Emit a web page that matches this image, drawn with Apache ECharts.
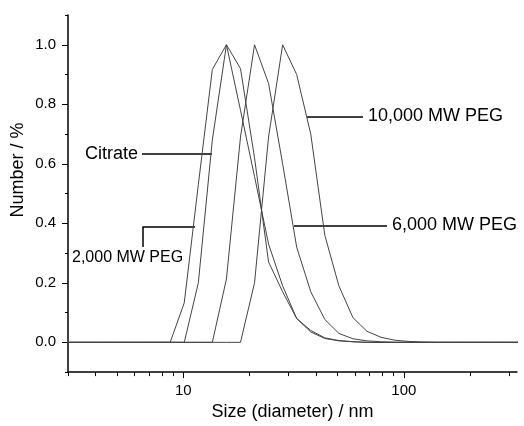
<!DOCTYPE html>
<html>
<head>
<meta charset="utf-8">
<title>Size distribution</title>
<script src="https://cdn.jsdelivr.net/npm/echarts@6/dist/echarts.min.js"></script>
<style type="text/css">
html, body { margin: 0; padding: 0; background: #fff; }
#chart { width: 524px; height: 426px; }
</style>
</head>
<body>
<div id="chart"></div>
<script type="text/javascript">
// size bins (nm)
var sizes = [2.696, 3.122, 3.615, 4.187, 4.849, 5.615, 6.503, 7.531, 8.721, 10.10,
	11.70, 13.54, 15.69, 18.17, 21.04, 24.36, 28.21, 32.67, 37.84, 43.82,
	50.75, 58.77, 68.06, 78.82, 91.28, 105.7, 122.4, 141.8, 164.2, 190.1,
	220.2, 255.0, 295.3, 342.0];

var peg2000 = [0, 0, 0, 0, 0, 0, 0, 0, 0, 0.133,
	0.53, 0.917, 1.0, 0.92, 0.62, 0.27, 0.17, 0.08, 0.035, 0.013,
	0.005, 0.002, 0, 0, 0, 0, 0, 0, 0, 0,
	0, 0, 0, 0];
var citrate = [0, 0, 0, 0, 0, 0, 0, 0, 0, 0,
	0.2, 0.68, 1.0, 0.78, 0.557, 0.33, 0.19, 0.08, 0.04, 0.015,
	0.006, 0.002, 0, 0, 0, 0, 0, 0, 0, 0,
	0, 0, 0, 0];
var peg6000 = [0, 0, 0, 0, 0, 0, 0, 0, 0, 0,
	0, 0, 0.213, 0.69, 1.0, 0.87, 0.6, 0.32, 0.17, 0.077,
	0.03, 0.012, 0.005, 0.002, 0, 0, 0, 0, 0, 0,
	0, 0, 0, 0];
var peg10000 = [0, 0, 0, 0, 0, 0, 0, 0, 0, 0,
	0, 0, 0, 0, 0.2, 0.69, 1.0, 0.9, 0.7, 0.36,
	0.19, 0.083, 0.037, 0.017, 0.007, 0.003, 0.001, 0, 0, 0,
	0, 0, 0, 0];

var xMajorTicks = [10, 100];
var xMinorTicks = [3, 4, 5, 6, 7, 8, 9, 20, 30, 40, 50, 60, 70, 80, 90, 200, 300];
var yMajorTicks = [0, 0.2, 0.4, 0.6, 0.8, 1.0];
var yMinorTicks = [-0.1, 0.1, 0.3, 0.5, 0.7, 0.9, 1.1];

var X_MIN = 3, X_MAX = 326;
var FONT = 'Liberation Sans, Arial, sans-serif';

function pairs(ys) {
	return sizes.map(function (s, i) { return [s, ys[i]]; });
}
function log10(v) { return Math.log(v) / Math.LN10; }

function curve(name, ys) {
	return {
		name: name,
		type: 'line',
		xAxisIndex: 0,
		yAxisIndex: 0,
		data: pairs(ys),
		showSymbol: false,
		lineStyle: { color: '#444', width: 1 },
		silent: true
	};
}

function label(text, x, y, size) {
	return {
		type: 'text', left: x, top: y - size / 2 - 1,
		style: { text: text, fill: '#000', font: size + 'px ' + FONT }
	};
}
function seg(points) {
	return {
		type: 'polyline',
		shape: { points: points },
		style: { stroke: '#000', lineWidth: 1.5, fill: null }
	};
}

var option = {
	animation: false,
	grid: { left: 68, right: 7, top: 15, bottom: 49 },
	xAxis: [
		{ type: 'log', min: X_MIN, max: X_MAX, show: false },
		{
			type: 'value', position: 'bottom', min: log10(X_MIN), max: log10(X_MAX),
			axisLine: { show: true, onZero: false, lineStyle: { color: '#000', width: 1.5 } },
			axisTick: { show: true, length: 4, customValues: xMinorTicks.map(log10), lineStyle: { color: '#000', width: 1 } },
			axisLabel: { show: false },
			splitLine: { show: false }
		},
		{
			type: 'value', position: 'bottom', min: log10(X_MIN), max: log10(X_MAX),
			axisLine: { show: false, onZero: false },
			axisTick: { show: true, length: 6, customValues: xMajorTicks.map(log10), lineStyle: { color: '#000', width: 1 } },
			axisLabel: {
				customValues: xMajorTicks.map(log10), margin: 11,
				color: '#000', fontSize: 15, fontFamily: FONT,
				formatter: function (v) { return Math.round(Math.pow(10, v)); }
			},
			splitLine: { show: false },
			name: 'Size (diameter) / nm', nameLocation: 'middle', nameGap: 21,
			nameTextStyle: { color: '#000', fontSize: 18, fontFamily: FONT }
		}
	],
	yAxis: [
		{
			type: 'value', min: -0.1, max: 1.1,
			axisLine: { show: true, onZero: false, lineStyle: { color: '#000', width: 1.5 } },
			axisTick: { show: true, length: 6, customValues: yMajorTicks, lineStyle: { color: '#000', width: 1 } },
			axisLabel: {
				customValues: yMajorTicks, margin: 12,
				color: '#000', fontSize: 15, fontFamily: FONT,
				formatter: function (v) { return v.toFixed(1); }
			},
			splitLine: { show: false }
		},
		{
			type: 'value', position: 'left', min: -0.1, max: 1.1,
			axisLine: { show: false, onZero: false },
			axisTick: { show: true, length: 3, customValues: yMinorTicks, lineStyle: { color: '#000', width: 1 } },
			axisLabel: { show: false },
			splitLine: { show: false }
		}
	],
	graphic: [
		{
			type: 'text', x: 18, y: 170, rotation: Math.PI / 2,
			style: { text: 'Number / %', fill: '#000', font: '18px ' + FONT, align: 'center', verticalAlign: 'middle' }
		},
		seg([[142, 154], [212, 154]]),
		label('Citrate', 85, 155, 18),
		seg([[307, 117], [363, 117]]),
		label('10,000 MW PEG', 368, 117, 18),
		seg([[294, 226], [387, 226]]),
		label('6,000 MW PEG', 392, 226, 18),
		seg([[143, 247], [143, 227], [195, 227]]),
		label('2,000 MW PEG', 72, 259, 16)
	],
	series: [
		curve('2,000 MW PEG', peg2000),
		curve('Citrate', citrate),
		curve('6,000 MW PEG', peg6000),
		curve('10,000 MW PEG', peg10000)
	]
};

var chart = echarts.init(document.getElementById('chart'));
chart.setOption(option);
</script>
</body>
</html>
